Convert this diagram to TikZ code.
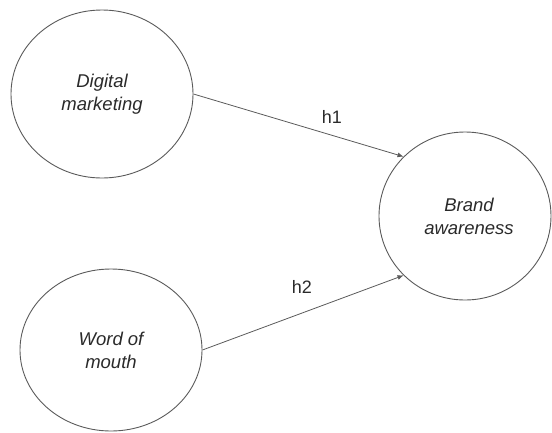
\documentclass[tikz,border=0pt]{standalone}
\usepackage{fontspec}
\setmainfont{Liberation Sans}
\usetikzlibrary{shapes.geometric,arrows.meta}
\definecolor{linegray}{HTML}{5A5A5A}
\definecolor{textgray}{HTML}{2A2A2A}
\begin{document}
\begin{tikzpicture}[x=1pt,y=-1pt,
  construct/.style={ellipse, draw=linegray, line width=0.9pt, inner sep=0pt,
    align=center, text=textgray, font=\fontsize{18.5}{23}\selectfont\itshape},
  link/.style={draw=linegray, line width=0.8pt, -{Latex[length=6pt,width=5pt]}},
  hlabel/.style={text=textgray, font=\fontsize{18}{22}\selectfont}]
\useasboundingbox (0,0) rectangle (552,432);
\node[construct, minimum width=182pt, minimum height=168pt] (dm) at (102,94) {Digital\\marketing};
\node[construct, minimum width=182pt, minimum height=162pt] (wom) at (111,350) {Word of\\mouth};
\node[construct, minimum width=172pt, minimum height=168pt] (ba) at (465,216) {\hspace*{8pt}Brand\\\hspace*{8pt}awareness};
\draw[link] (dm.east) -- (ba.136);
\draw[link] (wom.east) -- (ba.224);
\node[hlabel] (h1) at (332,117) {h1};
\node[hlabel] (h2) at (302,287) {h2};
\end{tikzpicture}
\end{document}
